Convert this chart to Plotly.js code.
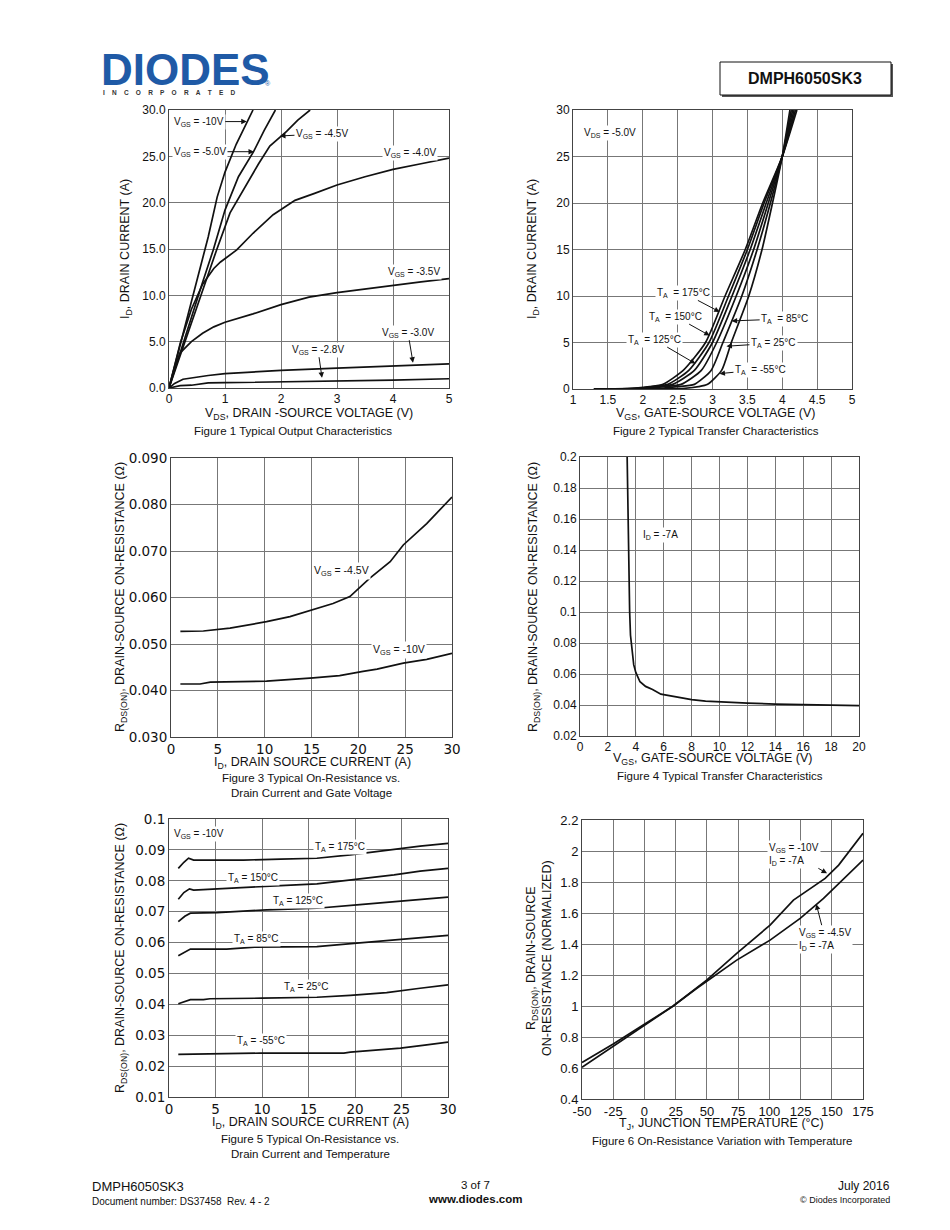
<!DOCTYPE html>
<html><head><meta charset="utf-8">
<script src="https://cdn.plot.ly/plotly-3.0.1.min.js"></script>
<style>html,body{margin:0;padding:0;background:#fff}#chart{width:950px;height:1230px}</style>
</head><body><div id="chart"></div>
<script>
// ---------- Figure 1: Typical Output Characteristics ----------
const f1_vds_10 = [0,0.2,0.4,0.6,0.7,0.86,1.0,1.2,1.5];
const f1_id_10  = [0,4.6,9.3,14,16.3,20.6,23.3,26.3,30];
const f1_vds_50 = [0,0.3,0.6,0.79,1.0,1.24,1.51,1.7,1.9];
const f1_id_50  = [0,5.8,11.4,14.9,19.2,22.8,25.5,27.8,30];
const f1_vds_45 = [0,0.3,0.6,0.85,1.09,1.39,1.6,1.8,2.1,2.3,2.52];
const f1_id_45  = [0,5.3,10.5,14.9,18.9,22.1,24.2,26.1,27.7,28.9,30];
const f1_vds_40 = [0,0.2,0.4,0.6,0.8,0.92,1.21,1.5,1.86,2.25,2.6,3.0,3.5,4.0,4.5,5.0];
const f1_id_40  = [0,4.8,8.5,11.2,12.9,13.6,14.9,16.7,18.7,20.25,21.0,21.9,22.8,23.6,24.2,24.8];
const f1_vds_35 = [0,0.1,0.2,0.4,0.6,0.8,1.0,1.5,2.0,2.5,3.0,3.5,4.0,4.5,5.0];
const f1_id_35  = [0,2.2,3.8,5.0,5.9,6.6,7.1,8.0,9.0,9.8,10.3,10.7,11.1,11.45,11.8];
const f1_vds_30 = [0,0.1,0.25,0.5,0.7,1.0,1.5,2.0,3.0,4.0,5.0];
const f1_id_30  = [0,0.5,0.95,1.2,1.35,1.55,1.75,1.9,2.15,2.4,2.6];
const f1_vds_28 = [0,0.2,0.4,0.6,0.7,1,2,3,4,5];
const f1_id_28  = [0,0.25,0.3,0.5,0.55,0.57,0.65,0.75,0.85,1.0];

// ---------- Figure 2: Typical Transfer Characteristics ----------
const f2_vgs_175 = [1.3,1.6,1.9,2.1,2.29,2.58,2.9,3.18,3.47,3.72,4.0,4.21];
const f2_id_175  = [0,0.02,0.1,0.25,0.5,2,5,10,15,20,25,30];
const f2_vgs_150 = [1.3,1.6,1.9,2.1,2.36,2.66,2.95,3.23,3.5,3.74,4.0,4.19];
const f2_id_150  = [0,0.02,0.08,0.2,0.5,2,5,10,15,20,25,30];
const f2_vgs_125 = [1.3,1.7,2.0,2.2,2.43,2.74,3.0,3.28,3.54,3.77,4.0,4.17];
const f2_id_125  = [0,0.02,0.1,0.25,0.5,2,5,10,15,20,25,30];
const f2_vgs_85  = [1.3,1.8,2.1,2.3,2.55,2.84,3.06,3.34,3.59,3.8,4.0,4.15];
const f2_id_85   = [0,0.02,0.1,0.25,0.5,2,5,10,15,20,25,30];
const f2_vgs_25  = [1.3,2.0,2.3,2.5,2.74,2.98,3.15,3.42,3.64,3.83,4.0,4.13];
const f2_id_25   = [0,0.02,0.1,0.25,0.5,2,5,10,15,20,25,30];
const f2_vgs_m55 = [1.3,2.3,2.6,2.8,2.93,3.13,3.27,3.52,3.71,3.86,4.0,4.11];
const f2_id_m55  = [0,0.02,0.08,0.25,0.5,2,5,10,15,20,25,30];

// ---------- Figure 3: On-Resistance vs Drain Current and Gate Voltage ----------
const f3_id_45 = [1,3.45,6.3,10.2,12.7,15.2,17.3,19.1,21.2,23.4,24.8,27.3,30];
const f3_r_45  = [0.0527,0.0528,0.0534,0.0548,0.0559,0.0575,0.0587,0.0602,0.0641,0.0677,0.0713,0.0759,0.0816];
const f3_id_10 = [1,3.1,4.2,10.2,15.2,18,20.5,22,24.8,27.3,30];
const f3_r_10  = [0.0414,0.0414,0.0418,0.0420,0.0427,0.0432,0.0441,0.0446,0.0459,0.0467,0.0480];

// ---------- Figure 4: RDS(ON) vs VGS ----------
const f4_vgs = [3.38,3.42,3.47,3.52,3.56,3.62,3.72,3.85,4.0,4.3,4.7,5.2,5.8,6.5,7.2,8,9,10,12,14,16,18,20];
const f4_r   = [0.2,0.17,0.14,0.115,0.1,0.085,0.075,0.066,0.061,0.055,0.052,0.050,0.047,0.0458,0.0445,0.0435,0.0425,0.042,0.0412,0.0406,0.0402,0.040,0.0396];

// ---------- Figure 5: On-Resistance vs Drain Current and Temperature ----------
const f5_id_175 = [1,1.6,2.1,2.65,5,8,12,15.9,19.5,24.2,27,30];
const f5_r_175  = [0.0840,0.0860,0.0873,0.0867,0.0867,0.0867,0.0870,0.0873,0.0884,0.0902,0.0912,0.0921];
const f5_id_150 = [1,1.6,2.2,2.65,5.2,8.7,12,15.9,19.9,24.2,27,30];
const f5_r_150  = [0.0740,0.0762,0.0774,0.0770,0.0774,0.0778,0.0784,0.0790,0.0803,0.0819,0.0831,0.0840];
const f5_id_125 = [1,1.7,2.3,4,5.2,10.5,15.9,20.2,25,30];
const f5_r_125  = [0.0668,0.0685,0.0695,0.0695,0.0697,0.0706,0.0711,0.0722,0.0735,0.0747];
const f5_id_85  = [1,1.7,2.3,4,6.2,9.2,15.9,20.2,25,30];
const f5_r_85   = [0.0557,0.0570,0.0579,0.0579,0.0579,0.0585,0.0587,0.0598,0.0610,0.0623];
const f5_id_25  = [1,1.7,2.3,3.7,4.4,10,15.9,19.5,23.4,27,30];
const f5_r_25   = [0.0402,0.0410,0.0415,0.0415,0.0418,0.0420,0.0423,0.0429,0.0438,0.0452,0.0463];
const f5_id_m55 = [1,3,6.2,9.8,15,18.8,19.5,22,24.9,27.5,30];
const f5_r_m55  = [0.0238,0.0239,0.0239,0.0242,0.0242,0.0242,0.0245,0.0251,0.0258,0.0268,0.0278];

// ---------- Figure 6: On-Resistance Variation with Temperature ----------
const f6_t_10 = [-50,-25,-1,23,49.8,73.9,100.6,119.3,144.7,155.5,175];
const f6_r_10 = [0.605,0.74,0.872,1.0,1.167,1.339,1.522,1.683,1.823,1.909,2.114];
const f6_t_45 = [-50,-25,-1,23,41.7,73.9,100.6,124.7,143.4,155.5,175];
const f6_r_45 = [0.635,0.755,0.877,1.0,1.113,1.296,1.425,1.565,1.694,1.791,1.942];
const f6_xticks = [-50,-25,0,25,50,75,100,125,150,175];

// ---------- helpers ----------
const W = 950, H = 1230;
const FONT = 'Liberation Sans, Arial, sans-serif';
const px = x => x / W;
const py = y => 1 - y / H;
function line(x, y, ax, shape) {
  return {x: x, y: y, xaxis: 'x' + ax, yaxis: 'y' + ax, mode: 'lines', type: 'scatter',
    line: {color: '#111', width: 1.7, shape: shape || 'linear', smoothing: 0.6}, hoverinfo: 'skip'};
}
function axis(x0, x1, range, dtick, anchor, fmt, fsize, ffam) {
  const a = {domain: [px(x0), px(x1)], range: range, dtick: dtick, anchor: anchor,
    showline: true, mirror: true, linecolor: '#444', linewidth: 1,
    showgrid: true, gridcolor: '#777', gridwidth: 1, zeroline: false, ticks: '',
    tickfont: {family: ffam || FONT, size: fsize || 12, color: '#111'}, fixedrange: true};
  if (fmt) a.tickformat = fmt;
  return a;
}
function yaxis(y0, y1, range, dtick, anchor, fmt, fsize, ffam) {
  const a = axis(0, 0, range, dtick, anchor, fmt, fsize, ffam);
  a.domain = [py(y1), py(y0)];
  return a;
}
function lab(k, x, y, text, opts) {
  const o = Object.assign({xref: 'x' + k, yref: 'y' + k, x: x, y: y, text: text, showarrow: false,
    font: {family: FONT, size: 10, color: '#111'}, bgcolor: '#fff', borderpad: 1}, opts || {});
  return o;
}
function arr(k, x, y, text, ax, ay, opts) {
  return lab(k, x, y, text, Object.assign({showarrow: true, ax: ax, ay: ay, axref: 'pixel', ayref: 'pixel',
    arrowhead: 2, arrowsize: 1.1, arrowwidth: 1, arrowcolor: '#111', standoff: 0}, opts || {}));
}
function ptxt(x, y, text, size, opts) {
  return Object.assign({xref: 'paper', yref: 'paper', x: px(x), y: py(y), text: text, showarrow: false,
    xanchor: 'center', yanchor: 'middle', font: {family: FONT, size: size, color: '#111'}}, opts || {});
}

const traces = [
  line(f1_vds_10, f1_id_10, ''), line(f1_vds_50, f1_id_50, ''), line(f1_vds_45, f1_id_45, ''),
  line(f1_vds_40, f1_id_40, ''), line(f1_vds_35, f1_id_35, ''), line(f1_vds_30, f1_id_30, ''),
  line(f1_vds_28, f1_id_28, ''),
  line(f2_vgs_175, f2_id_175, 2, 'spline'), line(f2_vgs_150, f2_id_150, 2, 'spline'),
  line(f2_vgs_125, f2_id_125, 2, 'spline'), line(f2_vgs_85, f2_id_85, 2, 'spline'),
  line(f2_vgs_25, f2_id_25, 2, 'spline'), line(f2_vgs_m55, f2_id_m55, 2, 'spline'),
  line(f3_id_45, f3_r_45, 3), line(f3_id_10, f3_r_10, 3),
  line(f4_vgs, f4_r, 4),
  line(f5_id_175, f5_r_175, 5), line(f5_id_150, f5_r_150, 5), line(f5_id_125, f5_r_125, 5),
  line(f5_id_85, f5_r_85, 5), line(f5_id_25, f5_r_25, 5), line(f5_id_m55, f5_r_m55, 5),
  line(f6_t_10, f6_r_10, 6), line(f6_t_45, f6_r_45, 6)
];

const nb = '\u00a0\u00a0\u00a0\u00a0';
const annotations = [
  // Figure 1 labels
  arr('', 1.388, 28.75, 'V<sub>GS</sub> = -10V', -48, 0),
  arr('', 1.518, 25.5, 'V<sub>GS</sub> = -5.0V', -54, 0),
  arr('', 1.982, 27.2, 'V<sub>GS</sub> = -4.5V', 42, -2),
  lab('', 4.295, 25.4, 'V<sub>GS</sub> = -4.0V'),
  lab('', 4.38, 12.57, 'V<sub>GS</sub> = -3.5V'),
  arr('', 4.357, 2.73, 'V<sub>GS</sub> = -3.0V', -5, -30),
  arr('', 2.732, 1.11, 'V<sub>GS</sub> = -2.8V', -4, -28),
  // Figure 2 labels
  lab(2, 1.526, 27.53, 'V<sub>DS</sub> = -5.0V'),
  arr(2, 3.103, 8.29, 'T<sub>A</sub>  = 175°C', -36, -19),
  arr(2, 2.96, 5.74, 'T<sub>A</sub>  = 150°C', -34, -19),
  arr(2, 2.755, 2.73, 'T<sub>A</sub>  = 125°C', -41, -24),
  arr(2, 3.275, 7.32, 'T<sub>A</sub>  = 85°C', 53, -2),
  arr(2, 3.2, 4.6, 'T<sub>A</sub> = 25°C', 47, -3),
  arr(2, 3.1, 1.65, 'T<sub>A</sub>  = -55°C', 41, -4),
  // Figure 3
  lab(3, 18.15, 0.06575, 'V<sub>GS</sub> = -4.5V', {font: {family: FONT, size: 10.5, color: '#111'}}),
  lab(3, 24.34, 0.04873, 'V<sub>GS</sub> = -10V', {font: {family: FONT, size: 10.5, color: '#111'}}),
  // Figure 4
  lab(4, 5.76, 0.1498, 'I<sub>D</sub> = -7A'),
  // Figure 5
  lab(5, 3.26, 0.0951, 'V<sub>GS</sub> = -10V'),
  lab(5, 18.37, 0.0909, 'T<sub>A</sub> = 175°C'),
  lab(5, 9.01, 0.0809, 'T<sub>A</sub> = 150°C'),
  lab(5, 13.85, 0.07358, 'T<sub>A</sub> = 125°C'),
  lab(5, 9.44, 0.0611, 'T<sub>A</sub> = 85°C'),
  lab(5, 14.76, 0.04567, 'T<sub>A</sub> = 25°C'),
  lab(5, 9.87, 0.028, 'T<sub>A</sub> = -55°C'),
  // Figure 6
  arr(6, 146.2, 1.856, 'V<sub>GS</sub> = -10V<br>I<sub>D</sub> = -7A', -33, -19, {align: 'left'}),
  arr(6, 137.6, 1.657, 'V<sub>GS</sub> = -4.5V<br>I<sub>D</sub> = -7A', 9, 35, {align: 'left'}),

  // Axis titles
  ptxt(126, 249, 'I<sub>D</sub>, DRAIN CURRENT (A)', 12.5, {textangle: -90}),
  ptxt(309, 414, 'V<sub>DS</sub>, DRAIN -SOURCE VOLTAGE (V)', 12.5),
  ptxt(293, 431, 'Figure 1 Typical Output Characteristics', 11.5),
  ptxt(533, 249, 'I<sub>D</sub>, DRAIN CURRENT (A)', 12.5, {textangle: -90}),
  ptxt(716, 414, 'V<sub>GS</sub>, GATE-SOURCE VOLTAGE (V)', 12.5),
  ptxt(716, 431, 'Figure 2 Typical Transfer Characteristics', 11.5),
  ptxt(121, 597, 'R<sub>DS(ON)</sub>, DRAIN-SOURCE ON-RESISTANCE (Ω)', 12.5, {textangle: -90}),
  ptxt(312, 763, 'I<sub>D</sub>, DRAIN SOURCE CURRENT (A)', 12.5),
  ptxt(311, 778, 'Figure 3 Typical On-Resistance vs.', 11.5),
  ptxt(311, 793, 'Drain Current and Gate Voltage', 11.5),
  ptxt(534, 597, 'R<sub>DS(ON)</sub>, DRAIN-SOURCE ON-RESISTANCE (Ω)', 12.5, {textangle: -90}),
  ptxt(713, 759, 'V<sub>GS</sub>, GATE-SOURCE VOLTAGE (V)', 12.5),
  ptxt(720, 776, 'Figure 4 Typical Transfer Characteristics', 11.5),
  ptxt(121, 958, 'R<sub>DS(ON)</sub>, DRAIN-SOURCE ON-RESISTANCE (Ω)', 12.5, {textangle: -90}),
  ptxt(310, 1123, 'I<sub>D</sub>, DRAIN SOURCE CURRENT (A)', 12.5),
  ptxt(310, 1139, 'Figure 5 Typical On-Resistance vs.', 11.5),
  ptxt(310, 1154, 'Drain Current and Temperature', 11.5),
  ptxt(539, 958, 'R<sub>DS(ON)</sub>, DRAIN-SOURCE<br>ON-RESISTANCE (NORMALIZED)', 12.5, {textangle: -90}),
  ptxt(721, 1124, 'T<sub>J</sub>, JUNCTION TEMPERATURE (°C)', 12.5),
  ptxt(722, 1141, 'Figure 6 On-Resistance Variation with Temperature', 11.5),

  // Header
  ptxt(99, 69, 'DIODES', 44, {xanchor: 'left', font: {family: FONT, size: 44, color: '#1f5aa6', weight: 'bold'}}),
  ptxt(268, 83, '®', 7, {font: {family: FONT, size: 7, color: '#1f5aa6'}}),
  ptxt(101, 93, ['I','N','C','O','R','P','O','R','A','T','E','D'].join(nb), 6.5,
    {xanchor: 'left', font: {family: FONT, size: 6.5, color: '#333', weight: 'bold'}}),
  ptxt(805, 79, 'DMPH6050SK3', 16, {font: {family: FONT, size: 16, color: '#111', weight: 'bold'}}),

  // Footer
  ptxt(90, 1186, 'DMPH6050SK3', 13, {xanchor: 'left'}),
  ptxt(90, 1201, 'Document number: DS37458  Rev. 4 - 2', 10, {xanchor: 'left'}),
  ptxt(475, 1185, '3 of 7', 11.5),
  ptxt(475, 1199, 'www.diodes.com', 11.5, {font: {family: FONT, size: 11.5, color: '#111', weight: 'bold'}}),
  ptxt(892, 1186, 'July 2016', 12, {xanchor: 'right'}),
  ptxt(892, 1200, '© Diodes Incorporated', 9, {xanchor: 'right'})
];

const shapes = [
  {type: 'rect', xref: 'paper', yref: 'paper', x0: px(722), x1: px(893), y0: py(97), y1: py(64),
   fillcolor: '#555', line: {width: 0}, layer: 'below'},
  {type: 'rect', xref: 'paper', yref: 'paper', x0: px(720), x1: px(891), y0: py(95), y1: py(62),
   fillcolor: '#fff', line: {color: '#111', width: 1}, layer: 'below'}
];

const layout = {
  width: W, height: H, margin: {l: 0, r: 0, t: 0, b: 0}, showlegend: false,
  paper_bgcolor: '#fff', plot_bgcolor: '#fff', font: {family: FONT, color: '#111'},
  xaxis:  axis(169, 449, [0, 5], 1, 'y'),
  yaxis:  yaxis(110, 388, [0, 30], 5, 'x', '.1f'),
  xaxis2: axis(573, 852, [1, 5], 0.5, 'y2'),
  yaxis2: yaxis(110, 389, [0, 30], 5, 'x2'),
  xaxis3: axis(171, 452, [0, 30], 5, 'y3', null, 13.5, 'DejaVu Sans'),
  yaxis3: yaxis(458, 737, [0.03, 0.09], 0.01, 'x3', '.3f', 13.5, 'DejaVu Sans'),
  xaxis4: axis(580, 859, [0, 20], 2, 'y4'),
  yaxis4: yaxis(457, 736, [0.02, 0.2], 0.02, 'x4'),
  xaxis5: axis(169, 448, [0, 30], 5, 'y5', null, 13.5, 'DejaVu Sans'),
  yaxis5: yaxis(819, 1097, [0.01, 0.1], 0.01, 'x5', null, 13.5, 'DejaVu Sans'),
  xaxis6: axis(582, 863, [-50, 175], 25, 'y6', null, 13),
  yaxis6: yaxis(820, 1099, [0.4, 2.2], 0.2, 'x6', null, 13),
  annotations: annotations,
  shapes: shapes
};
layout.xaxis2.tick0 = 1;
layout.yaxis4.tick0 = 0.02;
layout.yaxis5.tick0 = 0.01;
layout.yaxis6.tick0 = 0.4;
layout.xaxis6.tickmode = 'array';
layout.xaxis6.tickvals = f6_xticks;
layout.xaxis6.ticktext = f6_xticks.map(v => String(v));

Plotly.newPlot('chart', traces, layout, {staticPlot: true, displayModeBar: false});
</script>
</body></html>
